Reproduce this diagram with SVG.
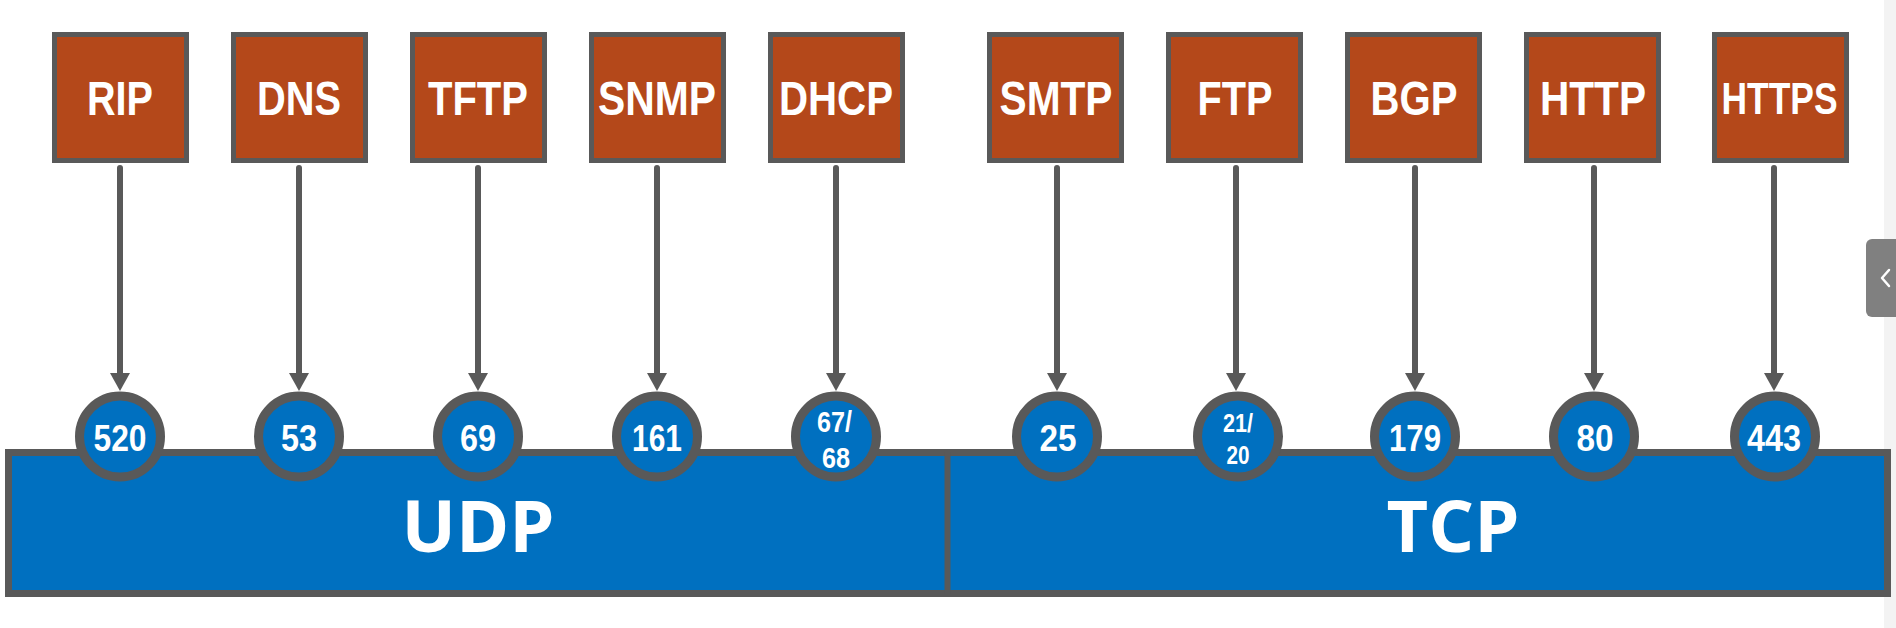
<svg xmlns="http://www.w3.org/2000/svg" width="1896" height="628" viewBox="0 0 1896 628">
<style>
.box{fill:#B4481A;stroke:#595959;stroke-width:5}
.lbl{font-family:"Liberation Sans",Arial,sans-serif;font-weight:bold;font-size:48px;fill:#FFFFFF;text-anchor:middle}
.port{fill:#0070C0;stroke:#595959;stroke-width:9}
.num{font-family:"Liberation Sans",Arial,sans-serif;font-weight:bold;font-size:37px;fill:#FFFFFF;text-anchor:middle}
.conn{stroke:#595959;stroke-width:6;stroke-linecap:round;fill:none;marker-end:url(#ah)}
.big{font-family:"Open Sans","Noto Sans",sans-serif;font-weight:bold;font-size:72px;fill:#FFFFFF;text-anchor:middle}
</style>
<defs>
<marker id="ah" markerUnits="userSpaceOnUse" viewBox="0 0 18 20" refX="2" refY="10" markerWidth="18" markerHeight="20" orient="auto">
<path d="M0,0 L18,10 L0,20 z" fill="#595959"/>
</marker>
</defs>
<rect x="0" y="0" width="1896" height="628" fill="#FFFFFF"/>
<rect x="1884" y="0" width="12" height="628" fill="#F3F3F3"/>

<g id="transport">
<rect x="8.5" y="452.5" width="1879" height="141" fill="#0070C0" stroke="#595959" stroke-width="7"/>
<line x1="947.5" y1="452" x2="947.5" y2="594" stroke="#595959" stroke-width="6"/>
<text id="udp" class="big" x="478" y="552">UDP</text>
<text id="tcp" class="big" x="1453" y="552">TCP</text>
</g>

<g id="connectors">
<line class="conn" x1="120" y1="168" x2="120" y2="375"/>
<line class="conn" x1="299" y1="168" x2="299" y2="375"/>
<line class="conn" x1="478" y1="168" x2="478" y2="375"/>
<line class="conn" x1="657" y1="168" x2="657" y2="375"/>
<line class="conn" x1="836" y1="168" x2="836" y2="375"/>
<line class="conn" x1="1057" y1="168" x2="1057" y2="375"/>
<line class="conn" x1="1236" y1="168" x2="1236" y2="375"/>
<line class="conn" x1="1415" y1="168" x2="1415" y2="375"/>
<line class="conn" x1="1594" y1="168" x2="1594" y2="375"/>
<line class="conn" x1="1774" y1="168" x2="1774" y2="375"/>
</g>

<g id="rip"><rect class="box" x="54.5" y="34.5" width="132" height="126"/><text class="lbl" x="120" y="115" textLength="66" lengthAdjust="spacingAndGlyphs">RIP</text></g>
<g id="dns"><rect class="box" x="233.5" y="34.5" width="132" height="126"/><text class="lbl" x="299" y="115" textLength="84" lengthAdjust="spacingAndGlyphs">DNS</text></g>
<g id="tftp"><rect class="box" x="412.5" y="34.5" width="132" height="126"/><text class="lbl" x="478" y="115" textLength="100" lengthAdjust="spacingAndGlyphs">TFTP</text></g>
<g id="snmp"><rect class="box" x="591.5" y="34.5" width="132" height="126"/><text class="lbl" x="657" y="115" textLength="118" lengthAdjust="spacingAndGlyphs">SNMP</text></g>
<g id="dhcp"><rect class="box" x="770.5" y="34.5" width="132" height="126"/><text class="lbl" x="836" y="115" textLength="114" lengthAdjust="spacingAndGlyphs">DHCP</text></g>
<g id="smtp"><rect class="box" x="989.5" y="34.5" width="132" height="126"/><text class="lbl" x="1056" y="115" textLength="113" lengthAdjust="spacingAndGlyphs">SMTP</text></g>
<g id="ftp"><rect class="box" x="1168.5" y="34.5" width="132" height="126"/><text class="lbl" x="1235" y="115" textLength="75" lengthAdjust="spacingAndGlyphs">FTP</text></g>
<g id="bgp"><rect class="box" x="1347.5" y="34.5" width="132" height="126"/><text class="lbl" x="1414" y="115" textLength="87" lengthAdjust="spacingAndGlyphs">BGP</text></g>
<g id="http"><rect class="box" x="1526.5" y="34.5" width="132" height="126"/><text class="lbl" x="1593" y="115" textLength="106" lengthAdjust="spacingAndGlyphs">HTTP</text></g>
<g id="https"><rect class="box" x="1714.5" y="34.5" width="132" height="126"/><text class="lbl" x="1779.5" y="114" style="font-size:44px" textLength="116" lengthAdjust="spacingAndGlyphs">HTTPS</text></g>

<g id="p520"><circle class="port" cx="120" cy="436.5" r="40.5"/><text class="num" x="120" y="451" textLength="53" lengthAdjust="spacingAndGlyphs">520</text></g>
<g id="p53"><circle class="port" cx="299" cy="436.5" r="40.5"/><text class="num" x="299" y="451" textLength="36" lengthAdjust="spacingAndGlyphs">53</text></g>
<g id="p69"><circle class="port" cx="478" cy="436.5" r="40.5"/><text class="num" x="478" y="451" textLength="36" lengthAdjust="spacingAndGlyphs">69</text></g>
<g id="p161"><circle class="port" cx="657" cy="436.5" r="40.5"/><text class="num" x="657" y="451" textLength="50" lengthAdjust="spacingAndGlyphs">161</text></g>
<g id="p6768"><circle class="port" cx="836" cy="436.5" r="40.5"/><text class="num" x="834.5" y="431.5" style="font-size:30px" textLength="35" lengthAdjust="spacingAndGlyphs">67/</text><text class="num" x="836" y="468" style="font-size:30px" textLength="28" lengthAdjust="spacingAndGlyphs">68</text></g>
<g id="p25"><circle class="port" cx="1057" cy="436.5" r="40.5"/><text class="num" x="1058" y="451" textLength="37" lengthAdjust="spacingAndGlyphs">25</text></g>
<g id="p2120"><circle class="port" cx="1238" cy="436.5" r="40.5"/><text class="num" x="1238" y="431.5" style="font-size:26px" textLength="30" lengthAdjust="spacingAndGlyphs">21/</text><text class="num" x="1238" y="463.5" style="font-size:26px" textLength="23" lengthAdjust="spacingAndGlyphs">20</text></g>
<g id="p179"><circle class="port" cx="1415" cy="436.5" r="40.5"/><text class="num" x="1415" y="451" textLength="52" lengthAdjust="spacingAndGlyphs">179</text></g>
<g id="p80"><circle class="port" cx="1594" cy="436.5" r="40.5"/><text class="num" x="1595" y="451" textLength="37" lengthAdjust="spacingAndGlyphs">80</text></g>
<g id="p443"><circle class="port" cx="1775" cy="436.5" r="40.5"/><text class="num" x="1774" y="451" textLength="54" lengthAdjust="spacingAndGlyphs">443</text></g>

<g id="side-tab">
<rect x="1866" y="239" width="40" height="78" rx="6" fill="#808080"/>
<polyline points="1889,270 1882,278 1889,286" fill="none" stroke="#FFFFFF" stroke-width="2.5" stroke-linecap="round" stroke-linejoin="round"/>
</g>
</svg>
